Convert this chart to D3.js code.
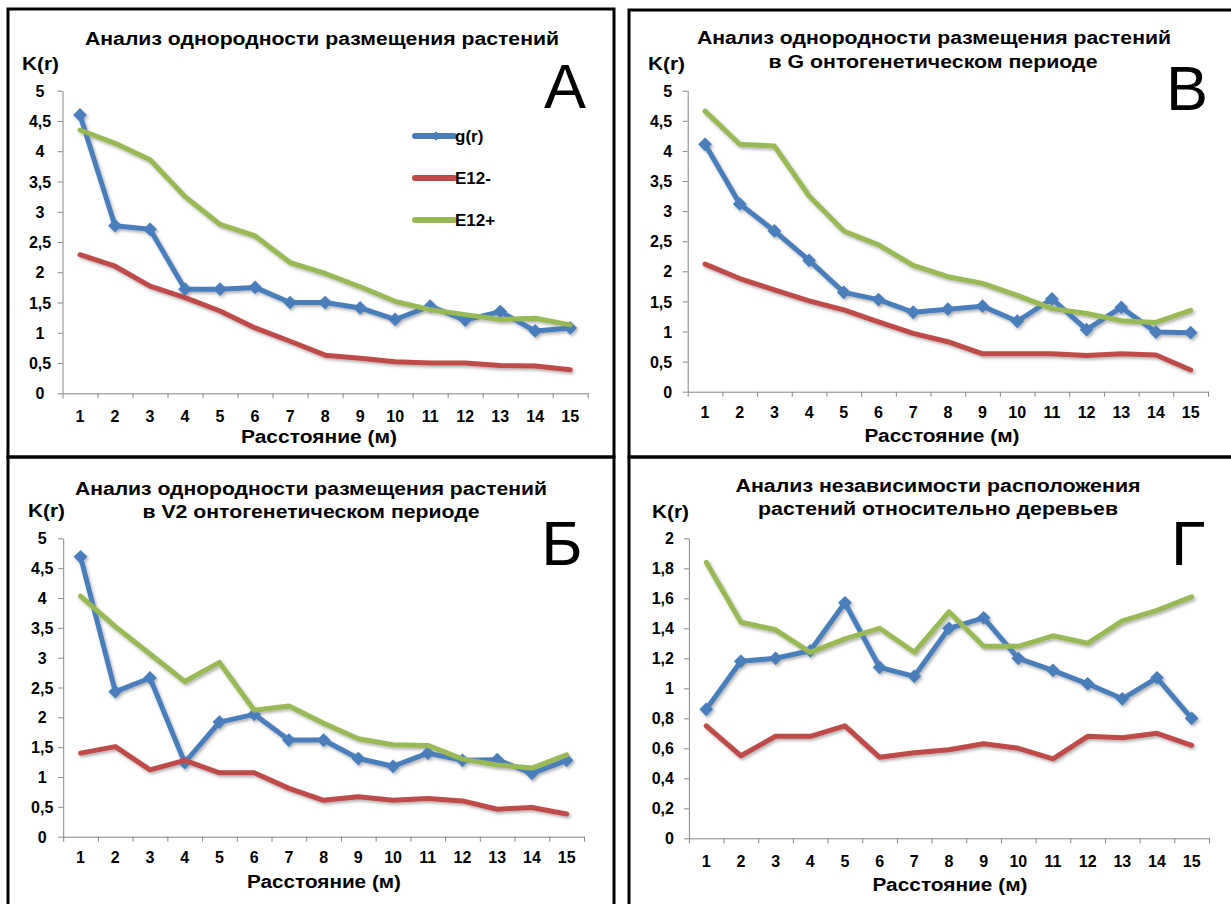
<!DOCTYPE html>
<html>
<head>
<meta charset="utf-8">
<script src="https://cdn.jsdelivr.net/npm/d3@7"></script>
<style>
  body { margin: 0; background: #fff; }
  svg { display: block; font-family: "Liberation Sans", Arial, sans-serif; }
</style>
</head>
<body>
<svg id="chart" width="1231" height="904"></svg>
<script>
// Distances (m) on the category axis
const distances = [1, 2, 3, 4, 5, 6, 7, 8, 9, 10, 11, 12, 13, 14, 15];
const seriesNames = ['g(r)', 'E12-', 'E12+'];

// Panel А: all plants
const gA    = [4.6, 2.77, 2.71, 1.72, 1.72, 1.75, 1.5, 1.5, 1.41, 1.22, 1.44, 1.21, 1.35, 1.03, 1.08];
const e12mA = [2.29, 2.1, 1.77, 1.58, 1.36, 1.08, 0.86, 0.63, 0.58, 0.52, 0.5, 0.5, 0.46, 0.45, 0.39];
const e12pA = [4.35, 4.13, 3.86, 3.25, 2.79, 2.6, 2.16, 1.98, 1.76, 1.52, 1.38, 1.3, 1.22, 1.24, 1.13];

// Panel В: G period
const gB    = [4.11, 3.12, 2.67, 2.18, 1.65, 1.53, 1.32, 1.37, 1.42, 1.17, 1.54, 1.03, 1.4, 0.99, 0.98];
const e12mB = [2.12, 1.88, 1.69, 1.51, 1.36, 1.16, 0.97, 0.83, 0.63, 0.63, 0.63, 0.6, 0.63, 0.61, 0.36];
const e12pB = [4.66, 4.11, 4.08, 3.25, 2.67, 2.44, 2.1, 1.91, 1.8, 1.6, 1.38, 1.3, 1.18, 1.15, 1.35];

// Panel Б: V2 period
const gV    = [4.69, 2.43, 2.66, 1.24, 1.92, 2.05, 1.62, 1.62, 1.31, 1.18, 1.4, 1.28, 1.29, 1.06, 1.28];
const e12mV = [1.4, 1.51, 1.12, 1.28, 1.07, 1.07, 0.81, 0.61, 0.67, 0.61, 0.64, 0.6, 0.46, 0.49, 0.38];
const e12pV = [4.03, 3.52, 3.06, 2.6, 2.92, 2.12, 2.19, 1.9, 1.64, 1.54, 1.53, 1.3, 1.2, 1.15, 1.37];

// Panel Г: independence from trees
const gT    = [0.86, 1.18, 1.2, 1.25, 1.57, 1.14, 1.08, 1.4, 1.47, 1.2, 1.12, 1.03, 0.93, 1.07, 0.8];
const e12mT = [0.75, 0.55, 0.68, 0.68, 0.75, 0.54, 0.57, 0.59, 0.63, 0.6, 0.53, 0.68, 0.67, 0.7, 0.62];
const e12pT = [1.84, 1.44, 1.39, 1.24, 1.33, 1.4, 1.24, 1.51, 1.28, 1.28, 1.35, 1.3, 1.45, 1.52, 1.61];

// Tick labels
const ticks5 = [0, 0.5, 1, 1.5, 2, 2.5, 3, 3.5, 4, 4.5, 5];
const ticks2 = [0, 0.2, 0.4, 0.6, 0.8, 1, 1.2, 1.4, 1.6, 1.8, 2];

const COLORS = ['#4a7ebb', '#be4b48', '#98b954'];
const AXIS = '#868686';
const fmt = d => String(d).replace('.', ',');

const panels = [
    {
        values: [gA, e12mA, e12pA], yTicks: ticks5,
        plot: { left: 62.5, right: 587.7, top: 90.7, bottom: 393.3 },
        yLab: { anchor: 'middle', x: -22.5 }, xPad: 17,
        title: [{ t: 'Анализ однородности размещения растений', x: 322, y: 45, w: 474 }],
        kr: { x: 22, y: 70 }, letter: { t: 'А', x: 565, y: 108 },
        xTitle: { x: 319, y: 443, w: 156 }, legend: true
    },
    {
        values: [gB, e12mB, e12pB], yTicks: ticks5,
        plot: { left: 687.7, right: 1208, top: 90.7, bottom: 391.7 },
        yLab: { anchor: 'end', x: -15.5 }, xPad: 15,
        title: [
            { t: 'Анализ однородности размещения растений', x: 934, y: 44, w: 474 },
            { t: 'в G онтогенетическом периоде', x: 933, y: 68, w: 329 }
        ],
        kr: { x: 648, y: 70 }, letter: { t: 'В', x: 1187, y: 110 },
        xTitle: { x: 942, y: 442, w: 155 }
    },
    {
        values: [gV, e12mV, e12pV], yTicks: ticks5,
        plot: { left: 63.2, right: 584, top: 538.3, bottom: 836.7 },
        yLab: { anchor: 'middle', x: -21 }, xPad: 15,
        title: [
            { t: 'Анализ однородности размещения растений', x: 311, y: 495, w: 472 },
            { t: 'в V2 онтогенетическом периоде', x: 311, y: 518, w: 337 }
        ],
        kr: { x: 28, y: 517 }, letter: { t: 'Б', x: 562, y: 565 },
        xTitle: { x: 324, y: 888, w: 154 }
    },
    {
        values: [gT, e12mT, e12pT], yTicks: ticks2,
        plot: { left: 688.9, right: 1209, top: 538.3, bottom: 838.3 },
        yLab: { anchor: 'end', x: -15 }, xPad: 17,
        title: [
            { t: 'Анализ независимости расположения', x: 938, y: 492, w: 405 },
            { t: 'растений относительно деревьев', x: 938, y: 515, w: 360 }
        ],
        kr: { x: 652, y: 518 }, letter: { t: 'Г', x: 1188, y: 565 },
        xTitle: { x: 950, y: 891, w: 155 }
    }
];

const svg = d3.select('#chart');

// soft Excel-like shadow under the lines
const shadow = svg.append('defs').append('filter')
    .attr('id', 'shadow').attr('x', '-10%').attr('y', '-10%').attr('width', '120%').attr('height', '130%');
shadow.append('feDropShadow')
    .attr('dx', 1.5).attr('dy', 2).attr('stdDeviation', 1.4)
    .attr('flood-color', '#000').attr('flood-opacity', 0.3);

// frames
const frames = [
    { x: 8, y: 9, w: 606, h: 448 },
    { x: 629, y: 10, w: 640, h: 447 },
    { x: 8, y: 457, w: 606, h: 480 },
    { x: 629, y: 457, w: 640, h: 480 }
];
svg.selectAll('rect.frame').data(frames).enter().append('rect')
    .attr('class', 'frame')
    .attr('x', d => d.x).attr('y', d => d.y)
    .attr('width', d => d.w).attr('height', d => d.h)
    .attr('fill', 'none').attr('stroke', '#000').attr('stroke-width', 3);

const diamond = d3.symbol(d3.symbolSquare, 95);

panels.forEach(p => {
    const g = svg.append('g');
    const yMax = p.yTicks[p.yTicks.length - 1];

    const x = d3.scaleBand().domain(distances).range([p.plot.left, p.plot.right]).padding(0);
    const xEdge = d3.scaleLinear().domain([0, distances.length]).range([p.plot.left, p.plot.right]);
    const y = d3.scaleLinear().domain([0, yMax]).range([p.plot.bottom, p.plot.top]);

    // y axis
    const yAxisG = g.append('g')
        .attr('transform', `translate(${p.plot.left},0)`)
        .call(d3.axisLeft(y).tickValues(p.yTicks).tickSize(5).tickSizeOuter(0).tickFormat(fmt));
    yAxisG.selectAll('text')
        .attr('x', p.yLab.x).attr('dy', '0.35em')
        .attr('text-anchor', p.yLab.anchor);

    // x axis: tick marks on category edges
    const xTickG = g.append('g')
        .attr('transform', `translate(0,${p.plot.bottom})`)
        .call(d3.axisBottom(xEdge).tickValues(d3.range(0, distances.length + 1)).tickSize(5).tickSizeOuter(0).tickFormat(''));
    // category labels
    const xLabG = g.append('g')
        .attr('transform', `translate(0,${p.plot.bottom})`)
        .call(d3.axisBottom(x).tickSize(0).tickPadding(p.xPad));
    xLabG.select('.domain').remove();

    g.selectAll('.domain, .tick line').attr('stroke', AXIS).attr('stroke-width', 1);
    g.selectAll('.tick text')
        .attr('fill', '#000')
        .style('font-family', '"Liberation Sans", Arial, sans-serif')
        .style('font-size', '16px').style('font-weight', 'bold');

    // series
    const line = d3.line()
        .x((d, i) => x(distances[i]) + x.bandwidth() / 2)
        .y(d => y(d));

    const layer = g.append('g').attr('filter', 'url(#shadow)');
    p.values.forEach((vals, si) => {
        layer.append('path')
            .datum(vals)
            .attr('d', line)
            .attr('fill', 'none')
            .attr('stroke', COLORS[si])
            .attr('stroke-width', 5)
            .attr('stroke-linejoin', 'round')
            .attr('stroke-linecap', 'round');
        if (si === 0) {
            layer.selectAll(null).data(vals).enter().append('path')
                .attr('d', diamond)
                .attr('fill', COLORS[0])
                .attr('transform', (d, i) => `translate(${x(distances[i]) + x.bandwidth() / 2},${y(d)}) rotate(45)`);
        }
    });

    // titles
    p.title.forEach(t => {
        g.append('text')
            .attr('x', t.x).attr('y', t.y)
            .attr('text-anchor', 'middle')
            .attr('textLength', t.w).attr('lengthAdjust', 'spacingAndGlyphs')
            .style('font-size', '18px').style('font-weight', 'bold')
            .text(t.t);
    });
    g.append('text')
        .attr('x', p.kr.x).attr('y', p.kr.y)
        .attr('textLength', 37).attr('lengthAdjust', 'spacingAndGlyphs')
        .style('font-size', '18px').style('font-weight', 'bold')
        .text('K(r)');
    g.append('text')
        .attr('x', p.xTitle.x).attr('y', p.xTitle.y)
        .attr('text-anchor', 'middle')
        .attr('textLength', p.xTitle.w).attr('lengthAdjust', 'spacingAndGlyphs')
        .style('font-size', '18px').style('font-weight', 'bold')
        .text('Расстояние (м)');
    g.append('text')
        .attr('x', p.letter.x).attr('y', p.letter.y)
        .attr('text-anchor', 'middle')
        .style('font-size', '63px')
        .text(p.letter.t);

    // legend
    if (p.legend) {
        const lg = g.append('g').attr('transform', 'translate(415,136)');
        seriesNames.forEach((name, i) => {
            const item = lg.append('g').attr('transform', `translate(0,${i * 42})`);
            item.append('line')
                .attr('x1', 0).attr('x2', 39)
                .attr('stroke', COLORS[i]).attr('stroke-width', 6)
                .attr('stroke-linecap', 'round');
            if (i === 0) {
                item.append('path').attr('d', diamond)
                    .attr('fill', COLORS[0])
                    .attr('transform', 'translate(21,0) rotate(45) scale(0.7)');
            }
            item.append('text')
                .attr('x', 40).attr('dy', '0.35em')
                .style('font-size', '17px').style('font-weight', 'bold')
                .text(name);
        });
    }
});
</script>
</body>
</html>
